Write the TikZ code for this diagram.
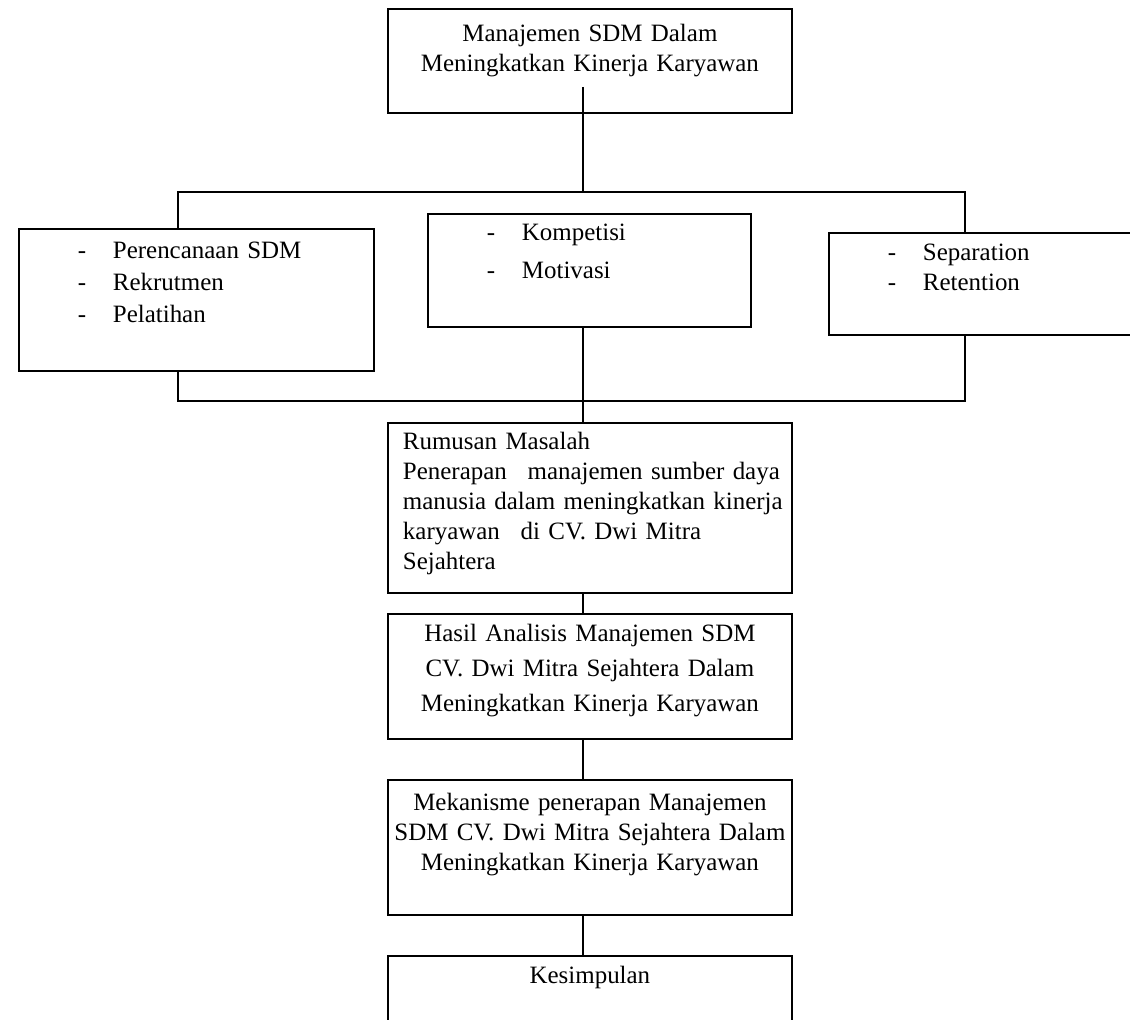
\documentclass[tikz,border=0pt]{standalone}
\usepackage{fontspec}
\setmainfont{Liberation Serif}
\usepackage{tikz}

\newcommand{\butir}[1]{\makebox[0.7cm][l]{-}#1}

\begin{document}
\begin{tikzpicture}[
	x=0.02cm, y=-0.02cm,
	kotak/.style={
		draw,
		line width=1.1pt,
		inner ysep=0pt,
		anchor=north west,
		font=\fontsize{14.2pt}{17pt}\selectfont
	},
	daftar/.style={
		kotak,
		inner xsep=1.18cm,
		align=left
	},
	tengahan/.style={
		kotak,
		inner xsep=0pt,
		text width=8.08cm,
		align=center
	},
	garis/.style={
		line width=1.1pt
	}
]
	\path[use as bounding box, fill=white] (0,0) rectangle (1130,1020);
	% Judul
	\node[tengahan, text height=0.66cm, text depth=1.42cm] (judul) at (387,8)
		{Manajemen SDM Dalam\\Meningkatkan Kinerja Karyawan};
	% Fungsi SDM
	\node[daftar, text width=4.74cm, text height=0.6cm, text depth=2.24cm] (kiri) at (18,228)
		{\butir{Perencanaan SDM}\\[0.04cm]\butir{Rekrutmen}\\[0.04cm]\butir{Pelatihan}};
	\node[daftar, text width=4.10cm, text height=0.54cm, text depth=1.72cm] (tengah) at (427,213)
		{\butir{Kompetisi}\\[0.16cm]\butir{Motivasi}};
	\node[daftar, text width=3.88cm, text height=0.56cm, text depth=1.48cm] (kanan) at (828,232)
		{\butir{Separation}\\\butir{Retention}};
	% Rumusan masalah
	\node[kotak, inner xsep=0.3cm, text width=7.48cm, align=left,
		text height=0.54cm, text depth=2.86cm] (rumusan) at (387,422)
		{Rumusan Masalah\\\mbox{Penerapan\hspace{0.25cm} manajemen sumber daya}\\
		\mbox{manusia dalam meningkatkan kinerja}\\\mbox{karyawan\hspace{0.25cm} di CV. Dwi Mitra}\\Sejahtera};
	% Hasil, mekanisme, kesimpulan
	\node[tengahan, text height=0.56cm, text depth=1.94cm] (hasil) at (387,613)
		{Hasil Analisis Manajemen SDM\\[0.1cm]CV. Dwi Mitra Sejahtera Dalam\\[0.1cm]Meningkatkan Kinerja Karyawan};
	\node[tengahan, text height=0.62cm, text depth=2.08cm] (mekanisme) at (387,779)
		{Mekanisme penerapan Manajemen\\SDM CV. Dwi Mitra Sejahtera Dalam\\Meningkatkan Kinerja Karyawan};
	\node[tengahan, text height=0.56cm, text depth=1.44cm] (kesimpulan) at (387,955)
		{Kesimpulan};

	% Titik cabang
	\coordinate (busAtas) at (583,192);
	\coordinate (busAtasKiri) at (178,192);
	\coordinate (busAtasKanan) at (965,192);
	\coordinate (busBawahKiri) at (178,401);
	\coordinate (busBawahKanan) at (965,401);
	% Garis
	\draw[garis] (judul.south -| busAtas) ++(0,-27) -- (busAtas);
	\draw[garis] (kiri.north -| busAtasKiri) -- (busAtasKiri) -- (busAtasKanan)
		-- (kanan.north -| busAtasKanan);
	\draw[garis] (kiri.south -| busBawahKiri) -- (busBawahKiri) -- (busBawahKanan)
		-- (kanan.south -| busBawahKanan);
	\draw[garis] (tengah.south -| busAtas) -- (rumusan.north -| busAtas);
	\draw[garis] (rumusan.south -| busAtas) -- (hasil.north -| busAtas);
	\draw[garis] (hasil.south -| busAtas) -- (mekanisme.north -| busAtas);
	\draw[garis] (mekanisme.south -| busAtas) -- (kesimpulan.north -| busAtas);
\end{tikzpicture}
\end{document}
